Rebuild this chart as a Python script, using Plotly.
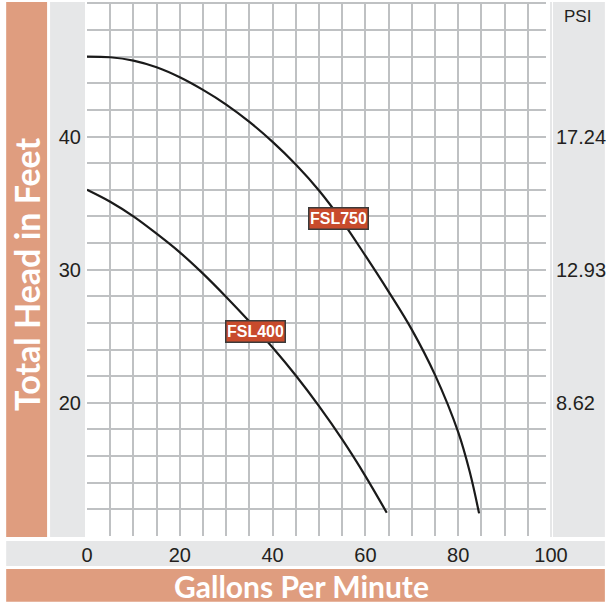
import plotly.graph_objects as go

# ---------------- data ----------------
fsl750_gpm = [0, 5, 10, 15, 20, 25, 30, 35, 40, 45, 50, 55, 60, 65, 70, 75, 80, 82.5, 84.5]
fsl750_head = [46.0, 45.95, 45.7, 45.2, 44.45, 43.5, 42.4, 41.1, 39.6, 37.9, 35.95, 33.65, 31.05, 28.35, 25.5, 22.1, 17.8, 14.8, 11.7]

fsl400_gpm = [0, 5, 10, 15, 20, 25, 30, 35, 40, 45, 50, 55, 60, 64.6]
fsl400_head = [36.0, 35.1, 34.0, 32.7, 31.3, 29.7, 27.95, 26.1, 24.15, 22.05, 19.75, 17.25, 14.5, 11.75]

x_ticks = [0, 20, 40, 60, 80, 100]
y_ticks = [20, 30, 40]
psi_labels = ["8.62", "12.93", "17.24"]

series_names = ["FSL750", "FSL400"]
label_pos = [(54.3, 33.87), (36.4, 25.33)]

x_range = [0, 100]
y_range = [10.0, 50.1]

# ---------------- layout geometry (pixels) ----------------
W, H = 606, 605
L, R, T, B = 87, 54, 0, 69
PW, PH = W - L - R, H - T - B

def px(x):
    return (x - L) / PW

def py(y):
    return (H - B - y) / PH

ORANGE = "#DF9D7F"
GRAY = "#E6E7E8"
GRID = "#BFC1C3"
TXT = "#231F20"
BOX = "#C84B2C"

fig = go.Figure()
fig.add_trace(go.Scatter(x=fsl750_gpm, y=fsl750_head, mode="lines", name=series_names[0],
                         line=dict(color="#1A1A1A", width=2.2, shape="spline", smoothing=1.0),
                         hoverinfo="skip"))
fig.add_trace(go.Scatter(x=fsl400_gpm, y=fsl400_head, mode="lines", name=series_names[1],
                         line=dict(color="#1A1A1A", width=2.2, shape="spline", smoothing=1.0),
                         hoverinfo="skip"))
# invisible trace to activate the PSI axis
fig.add_trace(go.Scatter(x=fsl750_gpm, y=fsl750_head, mode="lines", yaxis="y2",
                         line=dict(color="rgba(0,0,0,0)"), hoverinfo="skip", showlegend=False))

tick_font = dict(family="Liberation Sans Narrow, Arial Narrow, sans-serif", size=20, color=TXT)

shapes = []
def rect(x0, y0, x1, y1, color, layer="below"):
    shapes.append(dict(type="rect", xref="paper", yref="paper",
                       x0=px(x0), x1=px(x1), y0=py(y1), y1=py(y0),
                       fillcolor=color, line=dict(width=0), layer=layer))

rect(6, 0, 47, 537, ORANGE)          # left title band
rect(50, 0, 86, 537, GRAY)           # left tick column
rect(551, 0, 606, 537, GRAY)         # right PSI column
rect(6, 541, 606, 566, GRAY)         # bottom tick band
rect(6, 569, 606, 602, ORANGE)       # bottom title band
rect(547, 0, 551, 537, "white", layer="above")
rect(551, 0, 553, 537, GRAY, layer="above")

annotations = [
    dict(text="<b>Total Head in Feet</b>", xref="paper", yref="paper",
         x=px(27), y=py(273), textangle=-90, showarrow=False,
         xanchor="center", yanchor="middle",
         font=dict(family="Lato, sans-serif", size=34, color="white", weight=900)),
    dict(text="<b>Gallons Per Minute</b>", xref="paper", yref="paper",
         x=px(302), y=py(586), showarrow=False, xanchor="center", yanchor="middle",
         font=dict(family="Lato, sans-serif", size=30, color="white", weight=900)),
    dict(text="PSI", xref="paper", yref="paper", x=px(579), y=py(15), showarrow=False,
         xanchor="center", yanchor="middle",
         font=dict(family="Liberation Sans Narrow, Arial Narrow, sans-serif", size=17, color=TXT)),
]
for name, (lx, ly) in zip(series_names, label_pos):
    annotations.append(dict(text="<b>" + name + "</b>", x=lx, y=ly, xref="x", yref="y",
                            showarrow=False, bgcolor=BOX, bordercolor="#3A3A3A", borderwidth=1.5,
                            borderpad=1, width=56, height=18,
                            font=dict(family="Liberation Sans Narrow, Arial Narrow, sans-serif",
                                      size=16, color="white")))

fig.update_layout(
    width=W, height=H,
    margin=dict(l=L, r=R, t=T, b=B, pad=0),
    paper_bgcolor="white", plot_bgcolor="white",
    showlegend=False,
    shapes=shapes, annotations=annotations,
    xaxis=dict(range=x_range, tickmode="array", tickvals=x_ticks, showgrid=True,
               gridcolor=GRID, gridwidth=1.5, zeroline=False,
               showline=True, linecolor="white", linewidth=2, mirror=True,
               ticks="outside", ticklen=0, tickcolor="rgba(0,0,0,0)",
               tickfont=tick_font,
               minor=dict(tickmode="linear", tick0=0, dtick=5, showgrid=True,
                          gridcolor=GRID, gridwidth=1.5, ticks="")),
    yaxis=dict(range=y_range, tickmode="array", tickvals=y_ticks, showgrid=True,
               gridcolor=GRID, gridwidth=1.5, zeroline=False,
               showline=True, linecolor="white", linewidth=2, mirror=True,
               ticks="outside", ticklen=0, tickcolor="rgba(0,0,0,0)",
               tickfont=tick_font,
               minor=dict(tickmode="linear", tick0=0, dtick=2, showgrid=True,
                          gridcolor=GRID, gridwidth=1.5, ticks="")),
    yaxis2=dict(range=y_range, overlaying="y", side="right", tickmode="array",
                tickvals=y_ticks, ticktext=psi_labels, showgrid=False, zeroline=False,
                ticks="outside", ticklen=0, tickcolor="rgba(0,0,0,0)",
                tickfont=tick_font),
)

fig.write_html("out.html", config={"displayModeBar": False},
               post_script="document.body.style.margin='0px';")
